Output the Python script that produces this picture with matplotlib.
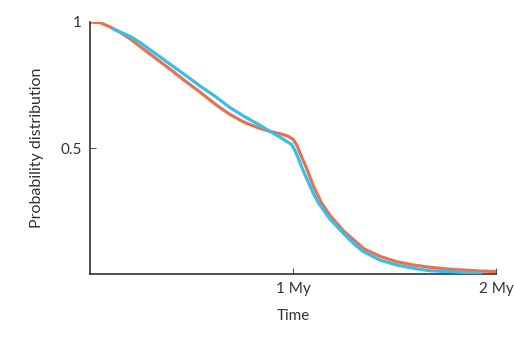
import numpy as np
import matplotlib
matplotlib.use("Agg")
import matplotlib.pyplot as plt

# values (time in My, probability)
orange_t = [0.00, 0.05, 0.10, 0.15, 0.20, 0.246, 0.32, 0.394, 0.47, 0.542, 0.62, 0.69, 0.76,
            0.829, 0.887, 0.94, 0.975, 1.00, 1.02, 1.04, 1.067, 1.10, 1.14, 1.18, 1.25, 1.30,
            1.35, 1.43, 1.51, 1.60, 1.675, 1.76, 1.84, 1.92, 2.00]
orange_p = [1.000, 0.997, 0.980, 0.958, 0.932, 0.903, 0.858, 0.813, 0.765, 0.722, 0.672, 0.633, 0.602,
            0.580, 0.566, 0.556, 0.547, 0.535, 0.510, 0.470, 0.420, 0.350, 0.283, 0.235, 0.170, 0.135,
            0.100, 0.070, 0.049, 0.035, 0.027, 0.020, 0.016, 0.012, 0.010]

blue_t = [0.107, 0.15, 0.20, 0.246, 0.32, 0.394, 0.47, 0.542, 0.62, 0.69, 0.76, 0.829, 0.887, 0.94,
          0.993, 1.01, 1.026, 1.045, 1.067, 1.10, 1.125, 1.18, 1.25, 1.30, 1.346, 1.43, 1.51,
          1.60, 1.675, 1.76, 1.84, 1.93]
blue_p = [0.975, 0.960, 0.942, 0.919, 0.876, 0.833, 0.789, 0.746, 0.703, 0.660, 0.625, 0.594, 0.566, 0.541,
          0.514, 0.490, 0.460, 0.420, 0.380, 0.320, 0.283, 0.220, 0.160, 0.120, 0.089, 0.055, 0.036,
          0.022, 0.013, 0.010, 0.007, 0.004]

x_ticks = [1, 2]
x_labels = ["1 My", "2 My"]
y_ticks = [0.5, 1]
y_labels = ["0.5", "1"]

plt.rcParams["font.family"] = ["Lato", "DejaVu Sans"]

fig = plt.figure(figsize=(5.14, 3.43), dpi=100)
ax = fig.add_axes([0.175, 0.201, 0.79, 0.735])

ax.plot(blue_t, blue_p, color="#3dbde3", lw=2.3, solid_capstyle="butt",
        solid_joinstyle="round", zorder=3)
ax.plot(orange_t, orange_p, color="#e07556", lw=2.3, solid_capstyle="butt",
        solid_joinstyle="round", zorder=2)

ax.set_xlim(0, 2)
ax.set_ylim(0, 1)
for s in ["top", "right"]:
    ax.spines[s].set_visible(False)
for s in ["left", "bottom"]:
    ax.spines[s].set_color("#222222")
    ax.spines[s].set_linewidth(1.1)

ax.set_xticks(x_ticks)
ax.set_xticklabels(x_labels)
ax.set_yticks(y_ticks)
ax.set_yticklabels(y_labels)
ax.tick_params(direction="in", length=4.5, width=0.8, color="#555555",
               labelsize=11, labelcolor="#333333", pad=6)

ax.set_xlabel("Time", fontsize=11, color="#333333", labelpad=9)
ax.set_ylabel("Probability distribution", fontsize=11.5, color="#333333", labelpad=12)

fig.savefig("out.png", dpi=100)
